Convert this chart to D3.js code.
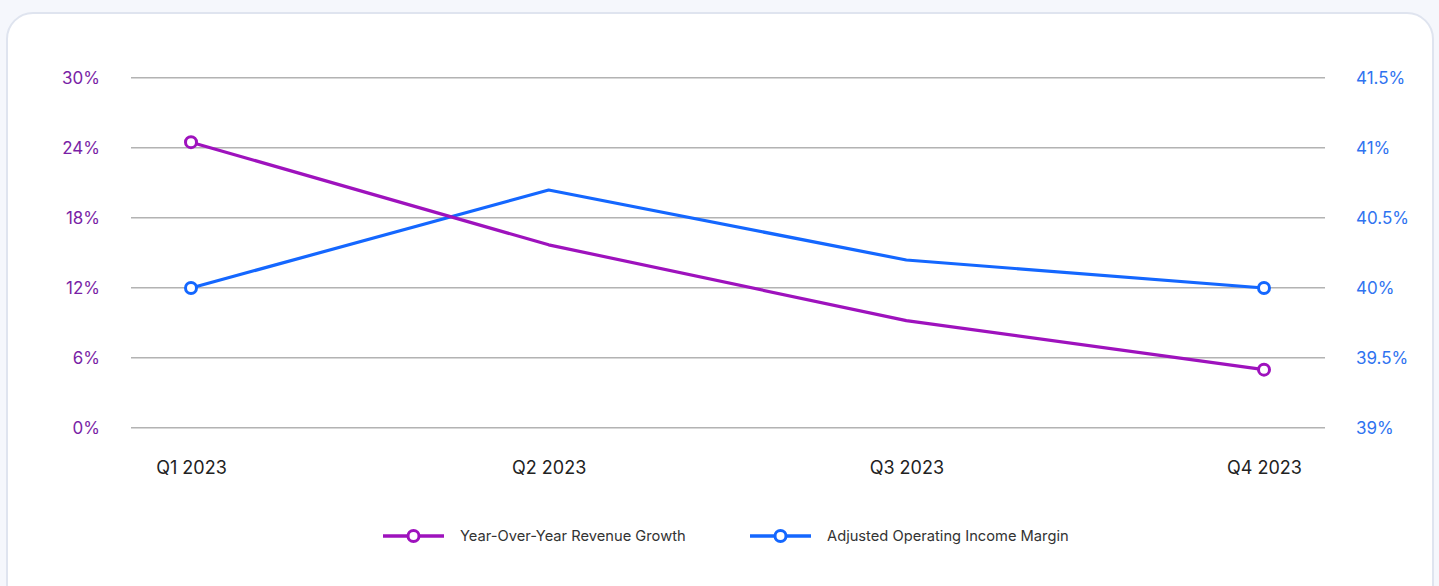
<!DOCTYPE html>
<html>
<head>
<meta charset="utf-8">
<script src="https://cdn.jsdelivr.net/npm/d3@7"></script>
<style>
  html, body { margin: 0; padding: 0; background: #f5f7fc; }
  svg { display: block; font-family: Inter, "Noto Sans", sans-serif; }
</style>
</head>
<body>
<svg id="chart" width="1439" height="586"></svg>
<script>
// Quarterly figures
const quarters = ["Q1 2023", "Q2 2023", "Q3 2023", "Q4 2023"];
const revenueGrowth = [24.5, 15.7, 9.2, 5.0];      // % year-over-year
const operatingMargin = [40.0, 40.7, 40.2, 40.0];  // % adjusted operating income margin
const leftTicks = [0, 6, 12, 18, 24, 30];
const rightTicks = [39, 39.5, 40, 40.5, 41, 41.5];
const seriesNames = ["Year-Over-Year Revenue Growth", "Adjusted Operating Income Margin"];

const purple = "#9e12bd";
const blue = "#1467ff";

const svg = d3.select("#chart");

// card
svg.append("rect")
  .attr("x", 7).attr("y", 13)
  .attr("width", 1426).attr("height", 620)
  .attr("rx", 26).attr("ry", 26)
  .attr("fill", "#ffffff")
  .attr("stroke", "#dfe4ef")
  .attr("stroke-width", 2);

const gridX0 = 131, gridX1 = 1325;
const x = d3.scalePoint().domain(quarters).range([191, 1264]);
const yL = d3.scaleLinear().domain([0, 30]).range([428, 78]);
const yR = d3.scaleLinear().domain([39, 41.5]).range([428, 78]);

// gridlines
const grid = svg.append("g");
leftTicks.forEach(t => {
  const yy = Math.round(yL(t));
  grid.append("line").attr("x1", gridX0).attr("x2", gridX1)
    .attr("y1", yy - 0.5).attr("y2", yy - 0.5)
    .attr("stroke", "#b3b3b3").attr("stroke-width", 1);
  grid.append("line").attr("x1", gridX0).attr("x2", gridX1)
    .attr("y1", yy + 0.5).attr("y2", yy + 0.5)
    .attr("stroke", "#d8d8d8").attr("stroke-width", 1);
});

// left axis
const leftAxis = d3.axisLeft(yL).tickValues(leftTicks)
  .tickFormat(d => d + "%").tickSize(0).tickPadding(0);
const gL = svg.append("g").attr("transform", "translate(100,0)").call(leftAxis);
gL.select(".domain").remove();
gL.selectAll("text").attr("fill", "#7a1fa6").attr("font-size", 17)
  .attr("font-family", "Inter, 'Noto Sans', sans-serif");

// right axis
const rightAxis = d3.axisRight(yR).tickValues(rightTicks)
  .tickFormat(d => d + "%").tickSize(0).tickPadding(0);
const gR = svg.append("g").attr("transform", "translate(1356,0)").call(rightAxis);
gR.select(".domain").remove();
gR.selectAll("text").attr("fill", "#2f73f0").attr("font-size", 17)
  .attr("font-family", "Inter, 'Noto Sans', sans-serif");

// bottom axis
const bottomAxis = d3.axisBottom(x).tickSize(0).tickPadding(0);
const gB = svg.append("g").attr("transform", "translate(0,461)").call(bottomAxis);
gB.select(".domain").remove();
gB.selectAll("text").attr("fill", "#222").attr("font-size", 18)
  .attr("font-family", "Inter, 'Noto Sans', sans-serif");

// lines
function drawSeries(values, yScale, color) {
  const data = quarters.map((q, i) => ({ q, v: values[i] }));
  const line = d3.line().x(d => x(d.q)).y(d => yScale(d.v));
  svg.append("path").datum(data)
    .attr("d", line).attr("fill", "none")
    .attr("stroke", color).attr("stroke-width", 3.2)
    .attr("stroke-linejoin", "round");
  const ends = [data[0], data[data.length - 1]];
  svg.append("g").selectAll("circle").data(ends).join("circle")
    .attr("cx", d => x(d.q)).attr("cy", d => yScale(d.v))
    .attr("r", 5.5).attr("fill", "#fff")
    .attr("stroke", color).attr("stroke-width", 3);
}
drawSeries(operatingMargin, yR, blue);
drawSeries(revenueGrowth, yL, purple);

// legend
const legend = svg.append("g");
const legendItems = [
  { name: seriesNames[0], color: purple, x0: 383 },
  { name: seriesNames[1], color: blue, x0: 750 }
];
legendItems.forEach(it => {
  const g = legend.append("g").attr("transform", `translate(${it.x0},536)`);
  g.append("line").attr("x1", 0).attr("x2", 61).attr("y1", 0).attr("y2", 0)
    .attr("stroke", it.color).attr("stroke-width", 3.5);
  g.append("circle").attr("cx", 30.5).attr("cy", 0).attr("r", 5.5)
    .attr("fill", "#fff").attr("stroke", it.color).attr("stroke-width", 3);
  g.append("text").attr("x", 77).attr("y", 0).attr("dy", "0.35em")
    .attr("font-size", 14.7).attr("fill", "#333").text(it.name);
});
</script>
</body>
</html>
